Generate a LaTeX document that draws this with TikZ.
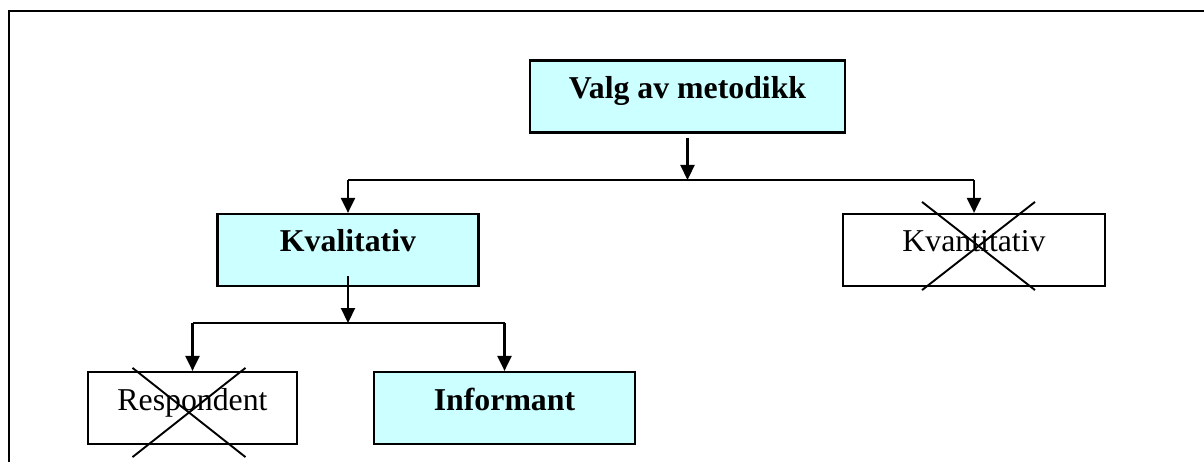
\documentclass[tikz,border=0pt]{standalone}
\usepackage{fontspec}
\setmainfont{Liberation Serif}
\usetikzlibrary{arrows.meta}
\definecolor{boxcyan}{HTML}{CCFFFF}
\begin{document}
\begin{tikzpicture}[x=1pt,y=-1pt,
  box/.style={draw=black,line width=2.2pt,inner sep=0pt,text height=38pt,text depth=34pt,
     font=\fontsize{31.8}{38}\selectfont},
  hl/.style={box,fill=boxcyan,font=\fontsize{31.8}{38}\selectfont\bfseries},
  plain/.style={box,fill=white},
  arr/.style={line width=2.2pt,-{Triangle[width=14pt,length=15pt]}},
  ln/.style={line width=2.2pt},
  crs/.style={line width=1.9pt}]
\useasboundingbox (0,0) rectangle (1204,462);
\draw[line width=2.6pt] (9,470) -- (9,11) -- (1210,11);
\node[hl,minimum width=315pt] (valg) at (687.5,96.5) {Valg av metodikk};
\node[hl,minimum width=261pt] (kval) at (348,250) {Kvalitativ};
\node[plain,minimum width=262pt] (kvan) at (974,250) {Kvantitativ};
\node[plain,minimum width=209pt] (resp) at (192.5,408) {Respondent};
\node[hl,minimum width=261pt] (inf) at (504.5,408) {Informant};
\coordinate (j1) at (687.5,180);
\coordinate (l1) at (348,180);
\coordinate (r1) at (974,180);
\coordinate (j2) at (348,323);
\coordinate (l2) at (192.5,323);
\coordinate (r2) at (504.5,323);
\draw[arr] ([yshift=-4pt]valg.south) -- (j1);
\draw[ln] (l1) -- (r1);
\draw[arr] (l1) -- (l1 |- kval.north);
\draw[arr] (r1) -- (r1 |- kvan.north);
\draw[arr] ([yshift=11pt]kval.south) -- (j2);
\draw[ln] (l2) -- (r2);
\draw[arr] (l2) -- (l2 |- resp.north);
\draw[arr] (r2) -- (r2 |- inf.north);
\draw[crs] ([xshift=-52pt,yshift=11pt]kvan.north) -- ([xshift=61pt,yshift=-3pt]kvan.south);
\draw[crs] ([xshift=61pt,yshift=11pt]kvan.north) -- ([xshift=-52pt,yshift=-3pt]kvan.south);
\draw[crs] ([xshift=-60pt,yshift=3pt]resp.north) -- ([xshift=53pt,yshift=-12pt]resp.south);
\draw[crs] ([xshift=53pt,yshift=3pt]resp.north) -- ([xshift=-60pt,yshift=-12pt]resp.south);
\end{tikzpicture}
\end{document}
